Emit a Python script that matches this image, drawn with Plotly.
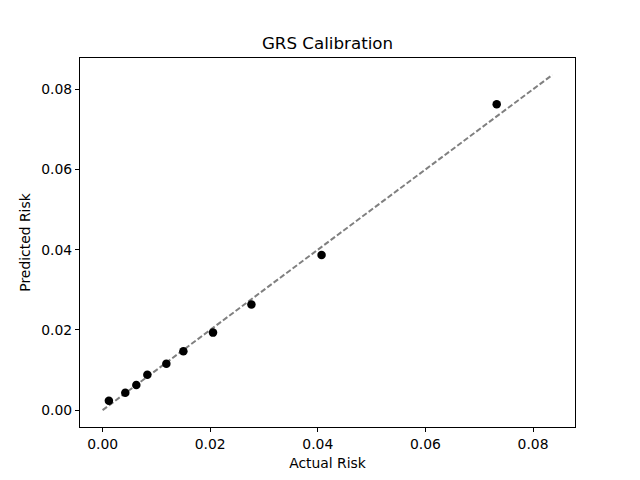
import plotly.graph_objects as go

actual_risk = [0.00117, 0.00422, 0.00627, 0.00832, 0.01185, 0.01501, 0.02052, 0.02766, 0.04070, 0.07325]
predicted_risk = [0.00233, 0.00433, 0.00625, 0.00883, 0.01158, 0.01468, 0.01933, 0.02633, 0.03868, 0.07625]
diag_line = [0.0, 0.0836]
tick_vals = [0.0, 0.02, 0.04, 0.06, 0.08]

font_family = "DejaVu Sans"

fig = go.Figure()
fig.add_trace(go.Scatter(
    x=diag_line, y=diag_line, mode="lines",
    line=dict(color="gray", width=2, dash="5.5px,2.4px"),
    showlegend=False, hoverinfo="skip",
))
fig.add_trace(go.Scatter(
    x=actual_risk, y=predicted_risk, mode="markers",
    marker=dict(color="black", size=8.5, line=dict(width=0)),
    showlegend=False,
))

axis_common = dict(
    showgrid=False, zeroline=False, showline=True, linecolor="black", linewidth=1,
    mirror=True, ticks="outside", ticklen=4, tickwidth=1, tickcolor="black",
    tickvals=tick_vals, tickformat=".2f",
    tickfont=dict(family=font_family, size=13.9, color="black"),
)

fig.update_layout(
    width=640, height=480,
    margin=dict(l=72, r=73, t=50, b=61, autoexpand=False),
    paper_bgcolor="white", plot_bgcolor="white",
    title=dict(text="GRS Calibration", x=0.5, xref="paper", xanchor="center",
               y=1 - 35 / 480, yref="container", yanchor="middle",
               font=dict(family=font_family, size=16.7, color="black")),
    xaxis=dict(range=[-0.0042, 0.0878],
               title=dict(text="Actual Risk", font=dict(family=font_family, size=13.9, color="black"), standoff=7),
               **axis_common),
    yaxis=dict(range=[-0.0042, 0.0878],
               title=dict(text="Predicted Risk", font=dict(family=font_family, size=13.9, color="black"), standoff=7),
               **axis_common),
    font=dict(family=font_family),
)

fig.write_html("out.html")
